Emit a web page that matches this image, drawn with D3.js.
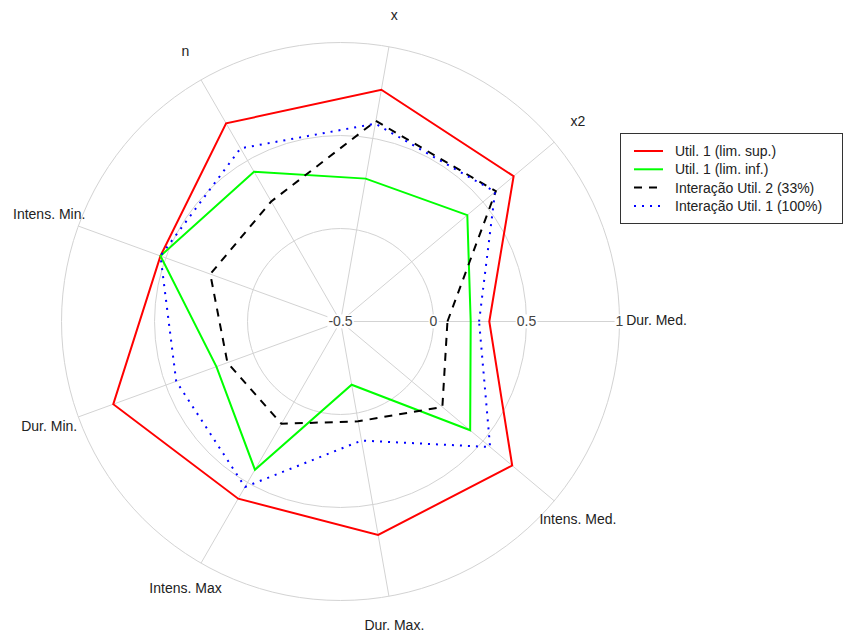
<!DOCTYPE html>
<html>
<head>
<meta charset="utf-8">
<script src="https://cdn.jsdelivr.net/npm/d3@7"></script>
<style>
    body { margin: 0; background: #fff; }
    text { font-family: "Liberation Sans", Arial, sans-serif; }
</style>
</head>
<body>
<div class="chart_radar"></div>
<script>
// Axis names, counter-clockwise starting at 3 o'clock
var axisNames = ["Dur. Med.", "x2", "x", "n", "Intens. Min.", "Dur. Min.", "Intens. Max", "Dur. Max.", "Intens. Med."];
var tickValues = [-0.5, 0, 0.5, 1];

var seriesNames = ["Util. 1 (lim. sup.)", "Util. 1 (lim. inf.)", "Interação Util. 2 (33%)", "Interação Util. 1 (100%)"];
var limSup = [0.30, 0.715, 0.765, 0.73, 0.53, 0.80, 0.60, 0.665, 0.705];
var limInf = [0.20, 0.39, 0.28, 0.43, 0.53, 0.21, 0.42, -0.155, 0.41];
var util2 = [0.075, 0.59, 0.595, 0.245, 0.245, 0.147, 0.135, 0.045, 0.215];
var util1 = [0.245, 0.585, 0.58, 0.575, 0.53, 0.44, 0.527, 0.15, 0.55];

var svgWidth = 848;
var svgHeight = 635;
var cx = 340.5;
var cy = 321.5;
var outerRadius = 279;

var svg = d3
    .select(".chart_radar")
    .append("svg")
    .attr("width", svgWidth)
    .attr("height", svgHeight)
    .style("display", "block");

var chart = svg.append("g")
    .attr("transform", "translate(" + cx + "," + cy + ")");

// Radial scale: -0.5 sits at the centre
var rScale = d3.scaleLinear().domain([-0.5, 1]).range([0, outerRadius]);

// Angle scale in degrees (maths convention, counter-clockwise from the right)
var angleScale = d3.scaleLinear().domain([0, axisNames.length]).range([0, 360]);

function toRad(i) {
    return angleScale(i) * Math.PI / 180;
}

// Grid circles
chart.selectAll("circle.grid")
    .data(tickValues.slice(1))
    .enter()
    .append("circle")
    .attr("class", "grid")
    .attr("r", function (d) { return rScale(d); })
    .attr("fill", "none")
    .attr("stroke", "#d3d3d3")
    .attr("stroke-width", 1);

// Spokes
chart.selectAll("line.spoke")
    .data(axisNames)
    .enter()
    .append("line")
    .attr("class", "spoke")
    .attr("x1", 0)
    .attr("y1", 0)
    .attr("x2", function (d, i) { return rScale(1) * Math.cos(toRad(i)); })
    .attr("y2", function (d, i) { return -rScale(1) * Math.sin(toRad(i)); })
    .attr("stroke", "#d3d3d3")
    .attr("stroke-width", 1);

// Tick labels along the horizontal axis, boxed in white
var tickGroup = chart.selectAll("g.tick")
    .data(tickValues)
    .enter()
    .append("g")
    .attr("class", "tick")
    .attr("transform", function (d) { return "translate(" + rScale(d) + ",0)"; });

tickGroup.append("rect").attr("fill", "#fff");

tickGroup.append("text")
    .attr("text-anchor", "middle")
    .attr("dy", "0.35em")
    .style("font-size", "14px")
    .style("fill", "#444")
    .text(function (d) { return d; });

tickGroup.each(function () {
    var g = d3.select(this);
    var bb = g.select("text").node().getBBox();
    g.select("rect")
        .attr("x", bb.x - 1)
        .attr("y", bb.y + 1)
        .attr("width", bb.width + 2)
        .attr("height", bb.height - 2);
});

// Axis labels (the one on the right gets pushed clear of the "1" tick)
var labelRadius = 310;
chart.selectAll("text.axis-label")
    .data(axisNames)
    .enter()
    .append("text")
    .attr("class", "axis-label")
    .attr("text-anchor", "middle")
    .attr("dy", "0.35em")
    .attr("x", function (d, i) { return labelRadius * Math.cos(toRad(i)) + (i === 0 ? 6 : 0); })
    .attr("y", function (d, i) { return -labelRadius * Math.sin(toRad(i)) - 1.5; })
    .style("font-size", "14px")
    .style("fill", "#222")
    .text(function (d) { return d; });

// Series drawn as closed polygons
var series = [
    { name: seriesNames[0], values: limSup, color: "#ff0000", dash: null },
    { name: seriesNames[1], values: limInf, color: "#00ff00", dash: null },
    { name: seriesNames[2], values: util2, color: "#000000", dash: "8,7" },
    { name: seriesNames[3], values: util1, color: "#0000ff", dash: "2,6" }
];

// lineRadial measures angles clockwise from 12 o'clock
var radarLine = d3.lineRadial()
    .angle(function (d, i) { return Math.PI / 2 - toRad(i); })
    .radius(function (d) { return rScale(d); })
    .curve(d3.curveLinearClosed);

chart.selectAll("path.series")
    .data(series)
    .enter()
    .append("path")
    .attr("class", "series")
    .attr("d", function (d) { return radarLine(d.values); })
    .attr("fill", "none")
    .attr("stroke", function (d) { return d.color; })
    .attr("stroke-width", 2)
    .attr("stroke-dasharray", function (d) { return d.dash; });

// Legend
var legend = svg.append("g").attr("transform", "translate(620,133)");

legend.append("rect")
    .attr("x", 0.5)
    .attr("y", 0.5)
    .attr("width", 222)
    .attr("height", 90)
    .attr("fill", "#fff")
    .attr("stroke", "#333")
    .attr("stroke-width", 1);

var legendRow = legend.selectAll("g.row")
    .data(series)
    .enter()
    .append("g")
    .attr("class", "row")
    .attr("transform", function (d, i) { return "translate(0," + (18 + i * 18.3) + ")"; });

legendRow.append("line")
    .attr("x1", 14)
    .attr("x2", 43)
    .attr("stroke", function (d) { return d.color; })
    .attr("stroke-width", 2)
    .attr("stroke-dasharray", function (d) { return d.dash; });

legendRow.append("text")
    .attr("x", 55)
    .attr("dy", "0.35em")
    .style("font-size", "14px")
    .style("fill", "#222")
    .text(function (d) { return d.name; });
</script>
</body>
</html>
